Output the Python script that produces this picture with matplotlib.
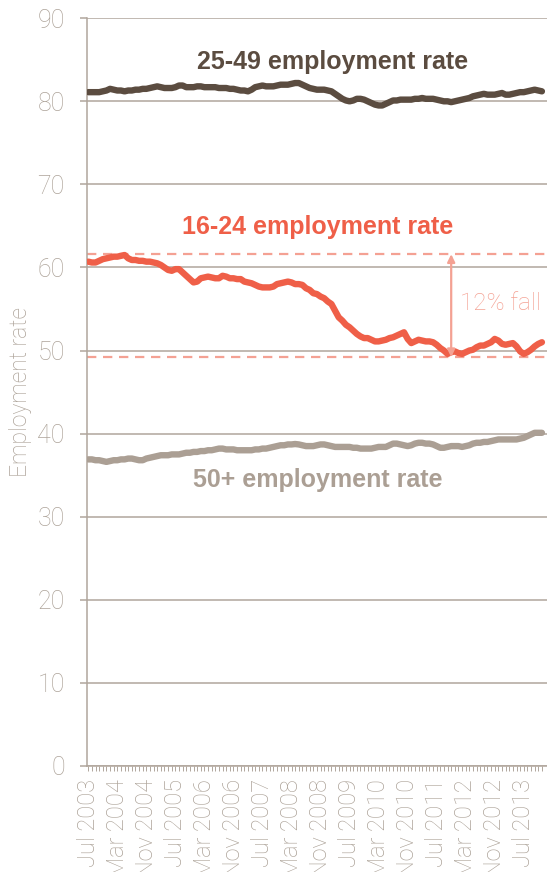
import numpy as np
import matplotlib
matplotlib.use("Agg")
import matplotlib.pyplot as plt

# monthly series, Jul 2003 .. Dec 2013
months = [f"{m} {y}" for y in range(2003, 2014)
          for m in ["Jan", "Feb", "Mar", "Apr", "May", "Jun",
                    "Jul", "Aug", "Sep", "Oct", "Nov", "Dec"]][6:]

rate_25_49 = [
    81.1, 81.1, 81.1, 81.1, 81.2, 81.3, 81.5, 81.4, 81.3, 81.3,
    81.2, 81.3, 81.3, 81.4, 81.4, 81.5, 81.5, 81.6, 81.7, 81.8,
    81.7, 81.6, 81.6, 81.6, 81.7, 81.9, 81.9, 81.7, 81.7, 81.7,
    81.8, 81.8, 81.7, 81.7, 81.7, 81.7, 81.6, 81.6, 81.6, 81.5,
    81.5, 81.4, 81.3, 81.3, 81.2, 81.4, 81.7, 81.8, 81.9, 81.8,
    81.8, 81.8, 81.9, 82.0, 82.0, 82.0, 82.1, 82.2, 82.2, 82.0,
    81.8, 81.6, 81.5, 81.4, 81.4, 81.4, 81.3, 81.2, 80.9, 80.6,
    80.3, 80.1, 80.0, 80.1, 80.3, 80.3, 80.2, 80.0, 79.8, 79.6,
    79.5, 79.5, 79.7, 79.9, 80.1, 80.1, 80.2, 80.2, 80.2, 80.2,
    80.3, 80.3, 80.4, 80.3, 80.3, 80.3, 80.2, 80.1, 80.0, 80.0,
    79.9, 80.0, 80.1, 80.2, 80.3, 80.4, 80.6, 80.7, 80.8, 80.9,
    80.8, 80.8, 80.8, 80.9, 81.0, 80.8, 80.8, 80.9, 81.0, 81.1,
    81.1, 81.2, 81.3, 81.4, 81.3, 81.2,
]

rate_16_24 = [
    60.7, 60.6, 60.6, 60.8, 61.0, 61.1, 61.2, 61.3, 61.3, 61.4,
    61.5, 61.1, 60.9, 60.9, 60.8, 60.8, 60.7, 60.7, 60.6, 60.5,
    60.3, 60.0, 59.7, 59.6, 59.8, 59.8, 59.4, 59.0, 58.6, 58.2,
    58.3, 58.7, 58.8, 58.9, 58.8, 58.7, 58.7, 59.0, 58.9, 58.7,
    58.7, 58.6, 58.6, 58.3, 58.2, 58.1, 57.9, 57.7, 57.6, 57.6,
    57.6, 57.7, 58.0, 58.1, 58.2, 58.3, 58.2, 58.0, 58.0, 57.9,
    57.5, 57.3, 56.9, 56.8, 56.5, 56.3, 55.9, 55.6, 54.8, 54.0,
    53.6, 53.1, 52.8, 52.4, 52.0, 51.7, 51.5, 51.5, 51.3, 51.1,
    51.1, 51.2, 51.3, 51.5, 51.6, 51.8, 52.0, 52.2, 51.4, 50.9,
    51.1, 51.3, 51.2, 51.1, 51.1, 51.0, 50.7, 50.3, 50.0, 49.6,
    49.8, 49.9, 49.7, 49.6, 49.8, 50.0, 50.1, 50.4, 50.6, 50.6,
    50.8, 51.0, 51.4, 51.2, 50.8, 50.7, 50.8, 50.9, 50.5, 49.9,
    49.6, 49.8, 50.1, 50.5, 50.8, 51.0,
]

rate_50_plus = [
    36.9, 36.9, 36.8, 36.8, 36.7, 36.6, 36.7, 36.8, 36.8, 36.9,
    36.9, 37.0, 37.0, 36.9, 36.8, 36.8, 37.0, 37.1, 37.2, 37.3,
    37.4, 37.4, 37.4, 37.5, 37.5, 37.5, 37.6, 37.7, 37.7, 37.8,
    37.8, 37.9, 37.9, 38.0, 38.0, 38.1, 38.2, 38.2, 38.1, 38.1,
    38.1, 38.0, 38.0, 38.0, 38.0, 38.0, 38.1, 38.1, 38.2, 38.2,
    38.3, 38.4, 38.5, 38.6, 38.6, 38.7, 38.7, 38.75, 38.7, 38.6,
    38.5, 38.5, 38.5, 38.6, 38.7, 38.7, 38.6, 38.5, 38.4, 38.4,
    38.4, 38.4, 38.4, 38.3, 38.3, 38.2, 38.2, 38.2, 38.2, 38.3,
    38.4, 38.4, 38.4, 38.6, 38.8, 38.8, 38.7, 38.6, 38.5, 38.6,
    38.8, 38.9, 38.9, 38.8, 38.8, 38.7, 38.5, 38.3, 38.3, 38.4,
    38.5, 38.5, 38.5, 38.4, 38.5, 38.6, 38.8, 38.9, 38.9, 39.0,
    39.0, 39.1, 39.2, 39.3, 39.3, 39.3, 39.3, 39.3, 39.3, 39.4,
    39.5, 39.7, 39.9, 40.1, 40.1, 40.1,
]

fall_top = 61.6
fall_bottom = 49.2
fall_month = "Nov 2011"

DARK = "#5b4c40"
RED = "#ef5f48"
TAUPE = "#ab9f94"
SALMON = "#f4a193"
GRID = "#b0a69c"
TICKTXT = "#ada399"

plt.rcParams["font.family"] = ["Roboto", "DejaVu Sans"]

fig = plt.figure(figsize=(5.47, 8.72), dpi=100)
ax = fig.add_axes([0.159, 0.1216, 0.841, 0.8575])

x = np.arange(len(months))

# reference band for the 16-24 fall
for lvl in (fall_top, fall_bottom):
    ax.axhline(lvl, color=SALMON, lw=1.6, dashes=(4.2, 3.0), zorder=2)

ax.plot(x, rate_25_49, color=DARK, lw=4.6, solid_capstyle="round",
        solid_joinstyle="round", zorder=3)
ax.plot(x, rate_16_24, color=RED, lw=4.6, solid_capstyle="round",
        solid_joinstyle="round", zorder=3)
ax.plot(x, rate_50_plus, color=TAUPE, lw=4.6, solid_capstyle="round",
        solid_joinstyle="round", zorder=3)

xa = months.index(fall_month)
ax.annotate("", xy=(xa, fall_top), xytext=(xa, fall_bottom),
            arrowprops=dict(arrowstyle="<|-|>,head_length=0.45,head_width=0.22",
                            color=SALMON, lw=1.6, shrinkA=0, shrinkB=0),
            zorder=4)
ax.text(xa + 2.3, 54.9, "12% fall", color=SALMON, fontsize=17.5,
        fontweight="light", ha="left", va="baseline")

bold = dict(fontsize=18, fontweight="bold", ha="center", va="baseline",
            family=["Liberation Sans", "DejaVu Sans"])
ax.text(67.4, 83.9, "25-49 employment rate", color=DARK, **bold)
ax.text(63.1, 64.0, "16-24 employment rate", color=RED, **bold)
ax.text(63.1, 33.55, "50+ employment rate", color=TAUPE, **bold)

ax.set_xlim(-0.36, 126.4)
ax.set_ylim(0, 90)
ax.set_yticks(np.arange(0, 91, 10))
ax.set_xticks(x[::8])
ax.set_xticklabels(months[::8], rotation=90)
ax.set_xticks(x, minor=True)

ax.grid(axis="y", color=GRID, lw=1.1)
ax.set_axisbelow(True)
for s in ("top", "right"):
    ax.spines[s].set_visible(False)
for s in ("left", "bottom"):
    ax.spines[s].set_color(GRID)
    ax.spines[s].set_linewidth(1.1)

ax.tick_params(axis="y", length=5, width=1.1, color=GRID, pad=11,
               labelsize=18, labelcolor=TICKTXT)
ax.tick_params(axis="x", which="both", length=3.5, width=0.7, color=GRID,
               pad=6, labelsize=17, labelcolor=TICKTXT)
for lab in ax.get_xticklabels() + ax.get_yticklabels():
    lab.set_fontweight("light")

ax.set_ylabel("Employment rate", color=TICKTXT, fontsize=16.5,
              fontweight="light", labelpad=4)

fig.savefig("out.png", dpi=100)
